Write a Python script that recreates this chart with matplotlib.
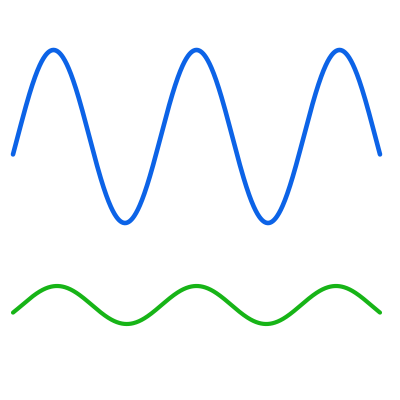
import numpy as np
import matplotlib
matplotlib.use("Agg")
import matplotlib.pyplot as plt

x_start, x_end = 13, 380
blue_mid, blue_amp, blue_period, blue_peak_x = 136.5, 86.5, 143.0, 196.5
green_mid, green_amp, green_period, green_peak_x = 305.0, 19.0, 139.5, 196.5

fig = plt.figure(figsize=(4, 4), dpi=100)
ax = fig.add_axes([0, 0, 1, 1])
ax.set_xlim(0, 400)
ax.set_ylim(400, 0)
ax.axis("off")

x = np.linspace(x_start, x_end, 800)
blue_y = blue_mid - blue_amp * np.cos(2 * np.pi * (x - blue_peak_x) / blue_period)
green_y = green_mid - green_amp * np.cos(2 * np.pi * (x - green_peak_x) / green_period)

ax.plot(x, blue_y, color="#0c63e7", lw=3.3, solid_capstyle="round")
ax.plot(x, green_y, color="#17b417", lw=3.0, solid_capstyle="round")

fig.savefig("out.png", dpi=100, facecolor="white")
